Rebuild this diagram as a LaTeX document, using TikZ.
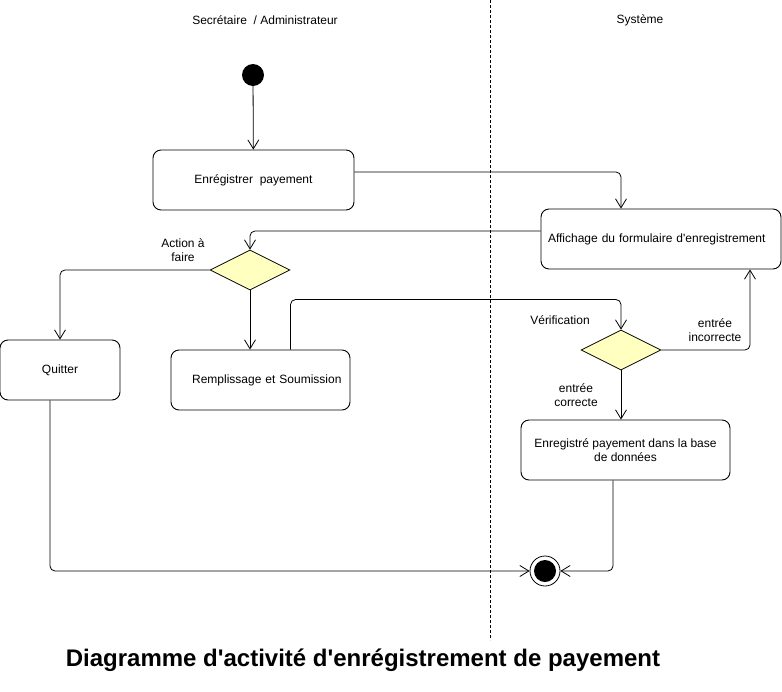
\documentclass[tikz,border=0pt]{standalone}
\usepackage{fontspec}
\setmainfont{Liberation Sans}[Ligatures=TeXOff]
\usepackage{tikz}
\usetikzlibrary{arrows.meta,shapes.geometric,positioning,calc}
\definecolor{decisionyellow}{RGB}{255,255,192}

\begin{document}
\begin{tikzpicture}[x=1pt,y=-1pt,
    font=\fontsize{12}{14}\selectfont,
    activity/.style={draw,rounded corners=8pt,line width=0.9pt,align=center,minimum height=60pt},
    decision/.style={draw,diamond,fill=decisionyellow,minimum width=80pt,minimum height=40pt,inner sep=0pt,line width=0.8pt},
    flow/.style={-{Straight Barb[length=9pt,width=11pt]},line width=0.8pt,rounded corners=5pt}]
    \useasboundingbox (0,0) rectangle (782,691);
    \node (acteur) at (265,20) {Secrétaire~ / Administrateur};
    \node (systeme) at (640,20) {Système};
    \draw[dashed,dash pattern=on 3pt off 2pt] (490,0) -- (490,640);
    \node[circle,fill=black,minimum size=22pt,inner sep=0pt] (debut) at (253,75) {};
    \node[activity,minimum width=201pt] (enreg) at (253.5,180) {Enrégistrer~ payement};
    \node[activity,minimum width=240pt,text width=226pt,align=left] (affich) at (661,239) {Affichage du formulaire d'enregistrement};
    \node[decision] (action) at (250,270) {};
    \node[align=center] (lblaction) at (183,250) {Action à\\faire};
    \node[activity,minimum width=120pt] (quit) at (60,370) {Quitter};
    \node[activity,minimum width=179pt,text width=162pt,align=right] (remp) at (260.5,380) {Remplissage et Soumission};
    \node[decision] (verif) at (621,350) {};
    \node (lblverif) at (560,320) {Vérification};
    \node[align=center] (lblincorr) at (715,330) {entrée\\incorrecte};
    \node[align=center] (lblcorr) at (576,395) {entrée\\correcte};
    \node[activity,minimum width=209pt] (stock) at (625.5,450) {Enregistré payement dans la base\\de données};
    \node[circle,draw,line width=0.8pt,minimum size=30pt,inner sep=0pt] (fin) at (545,571) {};
    \fill (fin) circle (11pt);
    \draw[flow] (debut) -- (enreg);
    \draw[flow] ([yshift=8pt]enreg.east) -| ([xshift=-40pt]affich.north);
    \draw[flow] ([yshift=8pt]affich.west) -| (action);
    \draw[flow] (action.west) -| (quit);
    \draw[flow] (action.south) -- (action.south |- remp.north);
    \draw[flow] ([xshift=30pt]remp.north) -- ++(0,-50) -| (verif);
    \draw[flow] (verif.east) -| ([xshift=89pt]affich.south);
    \draw[flow] (verif.south) -- (verif.south |- stock.north);
    \draw[flow] ([xshift=-12.5pt]stock.south) |- (fin.east);
    \draw[flow] ([xshift=-10pt]quit.south) |- (fin.west);
    \node[font=\bfseries\fontsize{24}{28}\selectfont] (titre) at (363,660) {Diagramme d'activité d'enrégistrement de payement};
\end{tikzpicture}
\end{document}
